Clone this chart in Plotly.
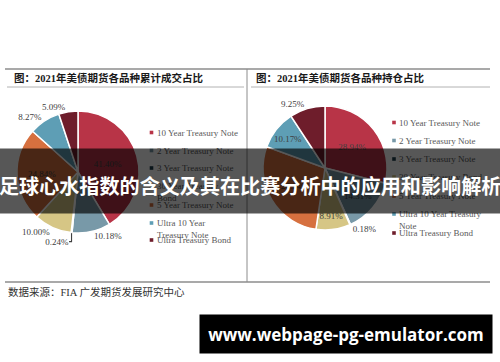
import plotly.graph_objects as go

# ---------------- data ----------------
categories = ["10 Year Treasury Note", "2 Year Treasury Note", "3 Year Treasury Note",
              "30 Year Treasury Bond", "5 Year Treasury Note",
              "Ultra 10 Year Treasury Note", "Ultra Treasury Bond"]
volume_share = [41.40, 10.18, 0.24, 10.00, 24.84, 8.27, 5.09]   # 累计成交占比 (%)
oi_share = [28.94, 14.31, 0.18, 8.91, 28.24, 10.17, 9.25]       # 持仓占比 (%)
legend_left = ["10 Year Treasury Note", "2 Year Treasury Note", "3 Year Treasury Note",
               "30 Year Treasury<br>Bond", "5 Year Treasury Note",
               "Ultra 10 Year<br>Treasury Note", "Ultra Treasury Bond"]
legend_right = ["10 Year Treasury Note", "2 Year Treasury Note", "3 Year Treasury Note",
                "30 Year Treasury Bond", "5 Year Treasury Note",
                "Ultra 10 Year Treasury<br>Note", "Ultra Treasury Bond"]
title_left = "图：2021年美债期货各品种累计成交占比"
title_right = "图：2021年美债期货各品种持仓占比"
source_text = "数据来源：FIA 广发期货发展研究中心"
banner_text = "足球心水指数的含义及其在比赛分析中的应用和影响解析"
watermark_text = "www.webpage-pg-emulator.com"

# ---------------- style ----------------
colors = ["#B83447", "#7899A8", "#1F3F4C", "#D6C685", "#D6703F", "#5E9EB5", "#6E1D2B"]
W, H = 500, 362
SERIF = "Liberation Serif, 'Noto Sans CJK SC', serif"
CJK = "'Liberation Serif', 'Noto Sans CJK SC', sans-serif"


def fx(x):
    return x / W


def fy(y):
    return 1 - y / H


def pie_domain(cx, cy, r):
    return dict(x=[fx(cx - r), fx(cx + r)], y=[fy(cy + r), fy(cy - r)])


fig = go.Figure()

fig.add_trace(go.Pie(
    labels=categories, values=volume_share, sort=False, direction="clockwise", rotation=0,
    marker=dict(colors=colors, line=dict(color="white", width=1.5)),
    texttemplate="%{value:.2f}%", textinfo="text",
    textposition=["inside", "outside", "outside", "outside", "inside", "outside", "outside"],
    insidetextorientation="horizontal",
    textfont=dict(family=SERIF, size=9, color="#404040"),
    domain=pie_domain(78, 172, 61), showlegend=False, hoverinfo="label+value",
))
fig.add_trace(go.Pie(
    labels=categories, values=oi_share, sort=False, direction="clockwise", rotation=0,
    marker=dict(colors=colors, line=dict(color="white", width=1.5)),
    texttemplate="%{value:.2f}%", textinfo="text",
    textposition=["inside", "inside", "outside", "inside", "inside", "inside", "outside"],
    insidetextorientation="horizontal",
    textfont=dict(family=SERIF, size=9, color="#404040"),
    domain=pie_domain(325, 168, 62), showlegend=False, hoverinfo="label+value",
))

shapes = []
annotations = []
line_col = "#8C8C8C"
# frame lines
shapes.append(dict(type="line", xref="paper", yref="paper", x0=fx(5), x1=fx(490), y0=fy(69), y1=fy(69),
                   line=dict(color=line_col, width=1.5)))
shapes.append(dict(type="line", xref="paper", yref="paper", x0=fx(5), x1=fx(490), y0=fy(282), y1=fy(282),
                   line=dict(color=line_col, width=1.5)))
shapes.append(dict(type="line", xref="paper", yref="paper", x0=fx(247), x1=fx(247), y0=fy(69), y1=fy(282),
                   line=dict(color=line_col, width=1)))
shapes.append(dict(type="line", xref="paper", yref="paper", x0=fx(7), x1=fx(244), y0=fy(87), y1=fy(87),
                   line=dict(color="#A0A0A0", width=0.8)))
shapes.append(dict(type="line", xref="paper", yref="paper", x0=fx(251), x1=fx(490), y0=fy(87), y1=fy(87),
                   line=dict(color="#A0A0A0", width=0.8)))

# titles
annotations.append(dict(text=title_left, x=fx(12), y=fy(78), xref="paper", yref="paper",
                        xanchor="left", yanchor="middle", showarrow=False,
                        font=dict(family=CJK, size=10.5, color="#1A1A1A", weight=700)))
annotations.append(dict(text=title_right, x=fx(254), y=fy(78), xref="paper", yref="paper",
                        xanchor="left", yanchor="middle", showarrow=False,
                        font=dict(family=CJK, size=10.5, color="#1A1A1A", weight=700)))

# manual legends (small square markers + labels)
def add_legend(labels, x_marker, rows):
    for lab, col, ry in zip(labels, colors, rows):
        shapes.append(dict(type="rect", xref="paper", yref="paper",
                           x0=fx(x_marker - 1.8), x1=fx(x_marker + 1.8),
                           y0=fy(ry + 1.8), y1=fy(ry - 1.8),
                           fillcolor=col, line=dict(width=0)))
        annotations.append(dict(text=lab, x=fx(x_marker + 3), y=fy(ry - 6.9), xref="paper", yref="paper",
                                xanchor="left", yanchor="top", align="left", showarrow=False,
                                font=dict(family=SERIF, size=9, color="#595959")))

add_legend(legend_left, 151.5, [132.5, 150.5, 168, 186, 205, 223, 240])
add_legend(legend_right, 394, [122.5, 140.5, 159, 177, 196, 214, 233])

# source
annotations.append(dict(text=source_text, x=fx(6), y=fy(292), xref="paper", yref="paper",
                        xanchor="left", yanchor="middle", showarrow=False,
                        font=dict(family=CJK, size=10.5, color="#333333")))

# banner overlay
annotations.append(dict(text=" ", x=0.5, y=fy(181), xref="paper", yref="paper",
                        xanchor="center", yanchor="middle", showarrow=False,
                        width=W, height=64, borderpad=0, bgcolor="rgba(0,0,0,0.66)",
                        font=dict(size=10)))
annotations.append(dict(text=banner_text, x=0.5, y=fy(185), xref="paper", yref="paper",
                        xanchor="center", yanchor="middle", showarrow=False,
                        font=dict(family="'Noto Sans CJK SC', sans-serif", size=20.1, color="white", weight=700)))

# watermark box
annotations.append(dict(text=watermark_text, x=fx(346), y=fy(334), xref="paper", yref="paper",
                        xanchor="center", yanchor="middle", showarrow=False,
                        width=292, height=38, borderpad=0, bgcolor="black",
                        font=dict(family="'Open Sans', sans-serif", size=17, color="white", weight=700)))

fig.update_layout(
    width=W, height=H, autosize=False,
    margin=dict(l=0, r=0, t=0, b=0),
    paper_bgcolor="white", plot_bgcolor="white",
    shapes=shapes, annotations=annotations,
    showlegend=False,
)

fig.write_html("out.html", config={"displayModeBar": False},
               post_script="document.body.style.margin='0';document.body.style.overflow='hidden';")
